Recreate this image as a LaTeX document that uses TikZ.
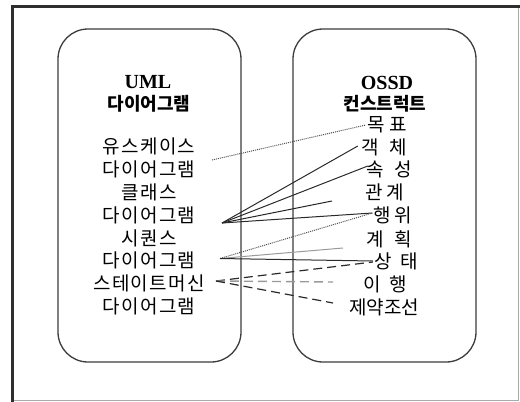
\documentclass[tikz,border=0pt]{standalone}
\usepackage{fontspec}
\setmainfont{Liberation Serif}
\newfontfamily\kr{Noto Sans CJK KR}
\newfontfamily\krsp{Noto Sans CJK KR}[LetterSpace=7]
\definecolor{boxc}{HTML}{3C3C3C}
\definecolor{framec}{HTML}{2E2E2E}
\definecolor{framel}{HTML}{ABABAB}
\definecolor{linec}{HTML}{2A2A2A}
\definecolor{lightc}{HTML}{9A9A9A}
\definecolor{dotcol}{HTML}{505050}
\begin{document}
\begin{tikzpicture}[x=1pt,y=-1pt,
  box/.style={draw=boxc, line width=1.3pt, rounded corners=30pt, minimum width=183pt, minimum height=333pt, inner sep=0pt},
  item/.style={font=\krsp\fontsize{19}{21}\selectfont, inner sep=0pt},
  ritem/.style={font=\kr\fontsize{19}{21}\selectfont, inner sep=0pt},
  head/.style={font=\kr\bfseries\fontsize{18}{20}\selectfont, inner sep=0pt},
  lat/.style={font=\bfseries\fontsize{20}{22}\selectfont, inner sep=0pt},
  solidln/.style={draw=linec, line width=1pt},
  lightln/.style={draw=lightc, line width=1pt},
  dotln/.style={draw=dotcol, line width=1pt, dash pattern=on 1pt off 1pt},
  dashln/.style={draw=linec, line width=1.2pt, dash pattern=on 9pt off 5pt},
  lightdash/.style={draw=lightc, line width=1.4pt, dash pattern=on 9pt off 5pt}
]
\useasboundingbox (0,0) rectangle (520,402);
% outer frame
\draw[framel, line width=1.2pt] (12,400.5) -- (518.8,400.5) -- (518.8,5);
\draw[framec, line width=3pt] (12.5,402) -- (12.5,6) -- (520,6);
% boxes
\node[box] (lbox) at (149.5,195.5) {};
\node[box] (rbox) at (384.5,195.5) {};
% left headings
\node[lat] (uml) at (148,82) {UML};
\node[head] (lhead) at (149,104) {다이어그램};
% left items
\node[item] (l1) at (149,146.5) {유스케이스};
\node[item] (l2) at (149,169.3) {다이어그램};
\node[item] (l3) at (149,192.2) {클래스};
\node[item] (l4) at (149,215.0) {다이어그램};
\node[item] (l5) at (149,237.9) {시퀀스};
\node[item] (l6) at (149,260.7) {다이어그램};
\node[item] (l7) at (149,283.6) {스테이트머신};
\node[item] (l8) at (149,306.4) {다이어그램};
% right headings
\node[lat] (ossd) at (387,83) {OSSD};
\node[head] (rhead) at (385,104) {컨스트럭트};
% right items
\node[ritem] (r1) at (387,125) {목\hspace{5pt}표};
\node[ritem] (r2) at (384,147) {객\hspace{11pt}체};
\node[ritem] (r3) at (389,169) {속\hspace{11pt}성};
\node[ritem] (r4) at (385,192) {관\hspace{4pt}계};
\node[ritem] (r5) at (393,215) {행\hspace{4pt}위};
\node[ritem] (r6) at (389,239) {계\hspace{11pt}획};
\node[ritem] (r7) at (396,261) {상\hspace{9pt}태};
\node[ritem] (r8) at (385,284) {이\hspace{8pt}행};
\node[ritem] (r9) at (384,307) {제약조선};
% free ends / origins
\coordinate (uc) at (212,160);
\coordinate (cls) at (222,223);
\coordinate (seq) at (220,258.5);
\coordinate (stm) at (216,281);
\coordinate (e4) at (332,201);
\coordinate (e6) at (343,248);
\coordinate (e8) at (333,282);
\coordinate (e9) at (333,303);
% connectors
\draw[dotln] (uc) -- ([xshift=-1pt]r1.west);
\draw[solidln] (cls) -- ([xshift=-3pt,yshift=1pt]r2.west);
\draw[solidln] (cls) -- ([xshift=2pt,yshift=3pt]r3.west);
\draw[solidln] (cls) -- (e4);
\draw[solidln] (cls) -- ([xshift=-1pt,yshift=2pt]r5.west);
\draw[dotln] (seq) -- ([xshift=-1pt,yshift=2pt]r5.west);
\draw[lightln] (seq) -- (e6);
\draw[solidln] (seq) -- ([xshift=-1pt,yshift=0pt]r7.west);
\draw[dashln] (stm) -- ([xshift=-1pt,yshift=-1pt]r7.west);
\draw[lightdash] (stm) -- (e8);
\draw[dashln] (stm) -- (e9);
\end{tikzpicture}
\end{document}
